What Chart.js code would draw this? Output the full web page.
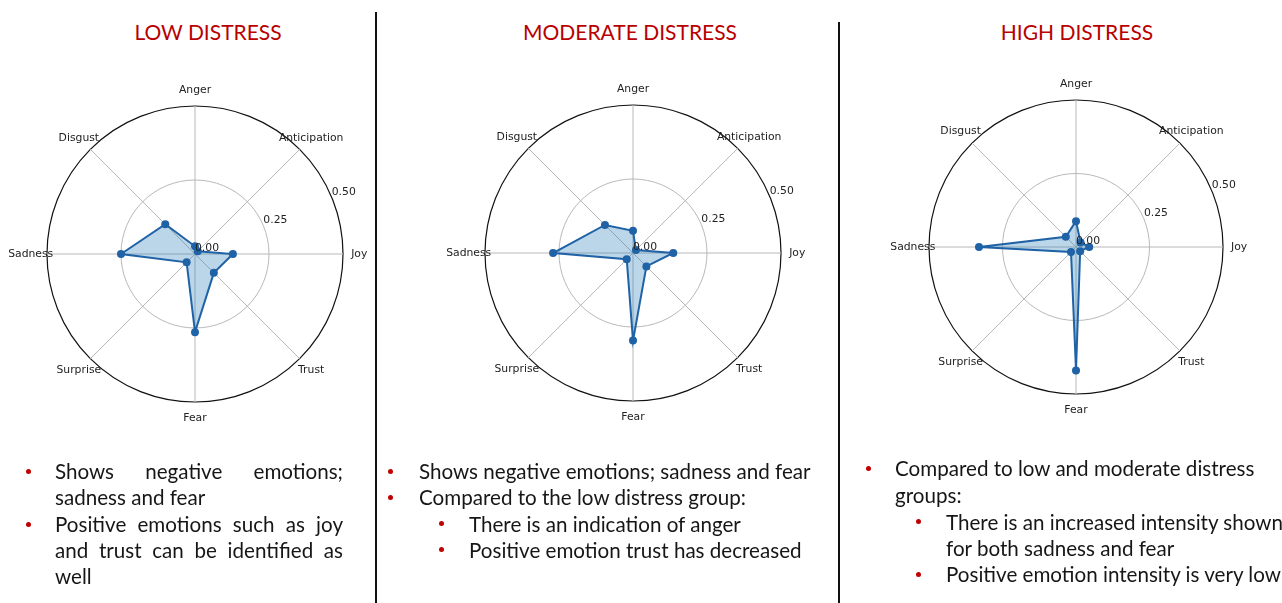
<!DOCTYPE html>
<html>
<head>
<meta charset="utf-8">
<script src="https://cdn.jsdelivr.net/npm/chart.js@4.4.1/dist/chart.umd.min.js"></script>
<style>
  html, body { margin: 0; padding: 0; background: #fff; }
  body { width: 1282px; height: 603px; position: relative; overflow: hidden; font-family: Lato, "Open Sans", sans-serif; }
  .title { position: absolute; top: 17px; width: 320px; font-size: 21px; line-height: 30px; color: #b80000; text-align: center; }
  .divider { position: absolute; width: 2px; bottom: 0; background: #111; }
  .radar { position: absolute; }
  .line { position: absolute; font-size: 20.6px; line-height: 26px; height: 26px; color: #161616; white-space: nowrap; }
  .line.just { text-align: justify; text-align-last: justify; white-space: normal; }
  .dot { position: absolute; width: 5px; height: 5px; border-radius: 50%; background: #c00000; }
</style>
</head>
<body>
  <div class="title" style="left:48px">LOW DISTRESS</div>
  <div class="title" style="left:470px">MODERATE DISTRESS</div>
  <div class="title" style="left:917px">HIGH DISTRESS</div>

  <div class="divider" style="left:375px; top:12px"></div>
  <div class="divider" style="left:838px; top:22px"></div>

  <canvas id="radar-low" class="radar" width="420" height="420"></canvas>
  <canvas id="radar-moderate" class="radar" width="420" height="420"></canvas>
  <canvas id="radar-high" class="radar" width="420" height="420"></canvas>

  <!-- low distress notes -->
  <span class="dot" style="left:26px; top:469px"></span>
  <div class="line just" style="left:55px; top:458px; width:288px">Shows negative emotions;</div>
  <div class="line" style="left:55px; top:484px">sadness and fear</div>
  <span class="dot" style="left:26px; top:522px"></span>
  <div class="line just" style="left:55px; top:511px; width:288px">Positive emotions such as joy</div>
  <div class="line just" style="left:55px; top:537px; width:288px">and trust can be identified as</div>
  <div class="line" style="left:55px; top:563px">well</div>

  <!-- moderate distress notes -->
  <span class="dot" style="left:388px; top:469px"></span>
  <div class="line" style="left:419px; top:458px">Shows negative emotions; sadness and fear</div>
  <span class="dot" style="left:388px; top:495px"></span>
  <div class="line" style="left:419px; top:484px">Compared to the low distress group:</div>
  <span class="dot" style="left:439px; top:521px"></span>
  <div class="line" style="left:469px; top:511px">There is an indication of anger</div>
  <span class="dot" style="left:439px; top:547px"></span>
  <div class="line" style="left:469px; top:537px">Positive emotion trust has decreased</div>

  <!-- high distress notes -->
  <span class="dot" style="left:866px; top:466px"></span>
  <div class="line" style="left:895px; top:455px">Compared to low and moderate distress</div>
  <div class="line" style="left:895px; top:482px">groups:</div>
  <span class="dot" style="left:916px; top:519px"></span>
  <div class="line" style="left:946px; top:509px">There is an increased intensity shown</div>
  <div class="line" style="left:946px; top:535px">for both sadness and fear</div>
  <span class="dot" style="left:916px; top:572px"></span>
  <div class="line" style="left:946px; top:561px">Positive emotion intensity is very low</div>

<script>
const emotions = ["Anger", "Anticipation", "Joy", "Trust", "Fear", "Surprise", "Sadness", "Disgust"];
const lowDistress = [0.026, 0.013, 0.128, 0.09, 0.264, 0.04, 0.25, 0.142];
const moderateDistress = [0.075, 0.014, 0.136, 0.064, 0.296, 0.03, 0.27, 0.134];
const highDistress = [0.088, 0.022, 0.045, 0.02, 0.42, 0.024, 0.33, 0.049];
const radialTicks = [0, 0.25, 0.5];

(() => {
  const CANVAS_SIZE = 420;

  // matplotlib-style labels: centered names outside the rim, radial ticks at 22.5deg
  const polarText = {
    id: "polarText",
    afterDraw(chart) {
      const scale = chart.scales.r;
      const ctx = chart.ctx;
      ctx.save();
      ctx.font = "10.8px 'DejaVu Sans'";
      ctx.fillStyle = "#222";
      ctx.textAlign = "center";
      ctx.textBaseline = "middle";
      emotions.forEach((name, i) => {
        const p = scale.getPointPosition(i, scale.drawingArea * 1.11);
        ctx.fillText(name, p.x, p.y);
      });

      ctx.textAlign = "left";
      ctx.textBaseline = "bottom";
      const angle = -Math.PI / 8;
      radialTicks.forEach((v) => {
        const d = scale.getDistanceFromCenterForValue(v);
        ctx.fillText(v.toFixed(2), scale.xCenter + d * Math.cos(angle), scale.yCenter + d * Math.sin(angle));
      });
      ctx.restore();
    },
  };

  function renderRadar(id, values, cx, cy, radius) {
    const canvas = document.getElementById(id);
    canvas.style.left = `${cx - CANVAS_SIZE / 2}px`;
    canvas.style.top = `${cy - CANVAS_SIZE / 2}px`;
    const pad = CANVAS_SIZE / 2 - radius;

    return new Chart(canvas.getContext("2d"), {
      type: "radar",
      data: {
        labels: emotions,
        datasets: [
          {
            data: values,
            borderColor: "#1f62a6",
            backgroundColor: "rgba(31, 119, 180, 0.3)",
            borderWidth: 2,
            pointRadius: 4,
            pointBorderWidth: 0,
            pointBackgroundColor: "#1f62a6",
            fill: true,
          },
        ],
      },
      options: {
        responsive: false,
        animation: false,
        devicePixelRatio: 1,
        layout: { padding: pad },
        plugins: {
          legend: { display: false },
          tooltip: { enabled: false },
        },
        scales: {
          r: {
            min: 0,
            max: 0.5,
            ticks: { display: false, stepSize: 0.25 },
            pointLabels: { display: false },
            grid: {
              circular: true,
              color: (c) => (c.tick && c.tick.value === 0.5 ? "#111" : "#b8b8b8"),
              lineWidth: (c) => (c.tick && c.tick.value === 0.5 ? 1.2 : 1),
            },
            angleLines: { color: "#b8b8b8", lineWidth: 1 },
          },
        },
      },
      plugins: [polarText],
    });
  }

  renderRadar("radar-low", lowDistress, 195, 254, 148);
  renderRadar("radar-moderate", moderateDistress, 633, 253, 148);
  renderRadar("radar-high", highDistress, 1076, 247, 147);
})();
</script>
</body>
</html>
